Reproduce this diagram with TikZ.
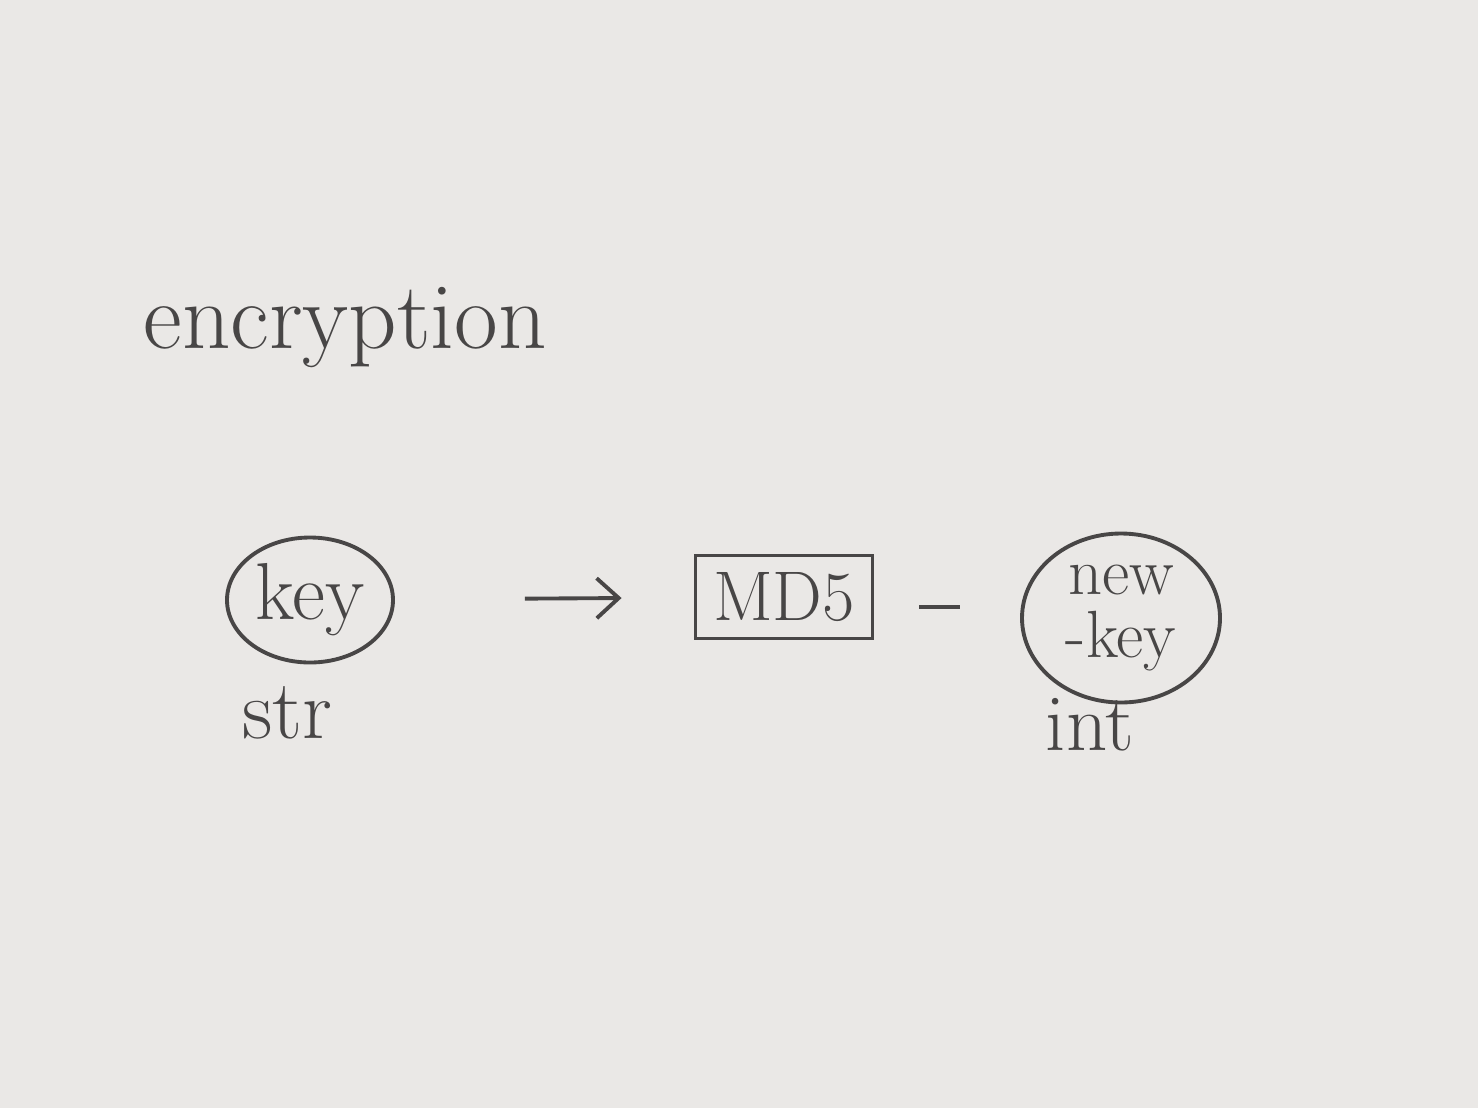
\documentclass[tikz,border=0pt]{standalone}
\usepackage{tikz}
\usepackage{xcolor}
\usetikzlibrary{positioning, arrows.meta, shapes.geometric, calc}
\definecolor{pencil}{RGB}{72,70,70}
\definecolor{paper}{RGB}{234,232,230}

\begin{document}
\begin{tikzpicture}[
  >={Straight Barb[length=2.2mm, width=4mm]},
  every node/.style={text=pencil},
  handtext/.style={font=\fontsize{24}{24}\selectfont},
  bubble/.style={draw=pencil, ellipse, line width=1.1pt, inner sep=0pt,
                 align=center, font=\fontsize{23}{20}\selectfont},
  hashbox/.style={draw=pencil, rectangle, line width=1.1pt, inner sep=0pt,
                  minimum width=1.77cm, minimum height=0.83cm,
                  font=\fontsize{20}{20}\selectfont},
]
  % Paper
  \fill[paper] (0,0) rectangle (14.78,-11.08);
  \useasboundingbox (0,0) rectangle (14.78,-11.08);

  % Title
  \node[handtext, font=\fontsize{27}{27}\selectfont] (title) at (3.45,-3.28) {encryption};

  % Input, hash and output
  \node[bubble, minimum width=1.66cm, minimum height=1.25cm] (key) at (3.10,-6.00) {key};
  \node[hashbox] (md5) at (7.84,-5.97) {MD5};
  \node[bubble, minimum width=1.98cm, minimum height=1.69cm,
        font=\fontsize{19}{18}\selectfont] (newkey) at (11.21,-6.18) {new\\-key};

  % Types
  \node[handtext] (str) at (2.87,-7.13) {str};
  \node[handtext, font=\fontsize{23}{23}\selectfont] (int) at (10.90,-7.25) {int};

  % Connectors
  \draw[->, pencil, line width=1.1pt, shorten <=1.3cm, shorten >=0.72cm] (key) -- (md5);
  \draw[pencil, line width=1.1pt, shorten <=0.45cm, shorten >=0.6cm]
    ([yshift=-1mm]md5.east) -- ([yshift=-1mm]md5.east -| newkey.west);
\end{tikzpicture}
\end{document}
